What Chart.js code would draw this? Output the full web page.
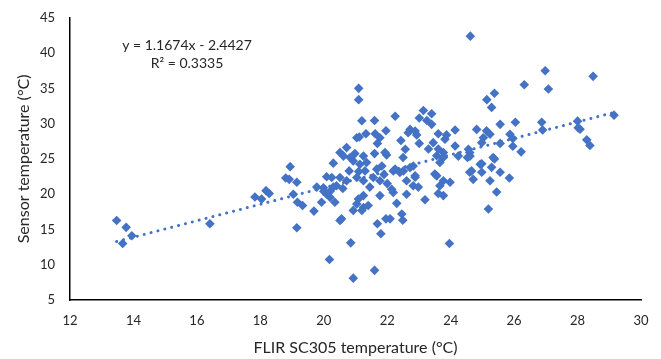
<!DOCTYPE html>
<html>
<head>
<meta charset="utf-8">
<script src="https://cdn.jsdelivr.net/npm/chart.js@4/dist/chart.umd.min.js"></script>
<style>
  html, body { margin: 0; padding: 0; background: #fff; }
  #wrap { width: 661px; height: 359px; position: relative; }
</style>
</head>
<body>
<div id="wrap"><canvas id="c" width="661" height="359"></canvas></div>
<script>
// FLIR SC305 temperature (x, °C)
const flirX = [
  13.47,13.77,13.95,13.66,16.41,17.83,18.04,18.18,18.28,18.94,18.8,18.91,19.15,19.04,19.17,19.33,19.15,19.69,19.93,20.09,
  20.2,20.35,20.09,20.51,20.56,20.85,20.93,20.18,20.93,20.3,20.72,20.51,20.83,20.62,20.93,21.1,21.1,21.04,21.2,20.25,
  20.51,20.72,21.04,21.25,21.56,21.77,19.78,19.99,21.09,21.04,21.25,21.4,21.6,21.69,21.8,21.96,21.6,21.96,21.33,21.12,
  21.62,21.77,21.69,20.98,21.25,21.6,21.93,21.14,21.35,22.25,23.14,23.4,23.01,23.25,22.72,22.88,22.66,22.93,23.4,24.14,
  23.61,23.87,22.43,22.57,23.01,23.45,23.82,24.14,23.3,23.61,23.56,23.77,23.77,23.66,24.24,24.56,24.61,24.82,25.13,25.24,
  25.03,24.98,25.34,25.29,24.66,24.93,24.98,25.24,23.5,23.77,23.98,22.25,22.51,22.72,22.88,22.61,22.82,22.19,22.61,22.3,
  22.46,22.49,23.19,23.61,23.77,22.09,23.96,25.19,25.45,25.85,25.56,24.71,24.6,23.66,22.14,22.98,22.88,21.77,21.25,21.2,
  21.83,21.67,22.19,22.4,22.5,22.82,21.98,24.62,26.98,28.49,26.32,27.08,25.38,25.14,25.29,29.15,26.04,26.87,26.9,28.0,
  28.08,28.02,28.29,28.39,25.56,25.87,25.96,25.96,25.56,26.22,25.38,24.98,24.53,24.6,23.56,20.4,20.6,20.2,21.3,21.45,
  22.0,21.9,20.8,21.1,20.0,20.3
];
// Sensor temperature (y, °C)
const sensorY = [
  16.27,15.3,14.1,13.0,15.8,19.6,19.3,20.5,20.1,23.9,22.3,22.1,21.7,20.0,18.85,18.4,15.24,17.6,18.85,20.0,
  19.55,18.85,22.46,16.27,16.5,13.1,8.1,10.73,17.7,24.4,26.6,25.9,25.2,25.4,24.7,35.0,33.4,28.0,30.4,22.37,
  22.37,21.9,22.37,21.9,22.37,21.9,21.0,20.9,19.3,18.6,18.1,18.4,9.2,15.8,14.4,16.5,30.45,29.0,28.56,28.1,
  28.56,28.0,27.2,25.75,25.4,25.75,25.9,24.25,24.5,31.05,31.86,31.4,30.8,30.45,29.18,28.94,28.7,28.4,29.9,29.1,
  28.56,28.4,27.6,26.37,27.2,27.3,27.8,26.83,26.4,26.4,25.45,25.9,25.2,24.5,25.4,26.37,25.4,29.18,29.0,28.5,
  28.0,27.3,25.2,23.8,23.3,24.25,23.1,21.9,22.85,21.9,21.7,23.55,23.3,23.77,22.6,21.9,21.2,20.25,20.0,18.7,
  17.2,16.3,19.2,20.1,19.8,16.5,13.0,17.9,20.3,22.3,23.1,22.1,23.1,21.2,20.7,21.0,22.4,19.8,19.8,17.7,
  24.0,23.55,23.3,23.07,25.2,24.0,25.56,42.4,37.5,36.7,35.5,34.9,34.3,33.4,32.3,31.2,30.2,30.2,29.1,30.35,
  29.2,29.4,27.7,26.9,29.9,28.5,27.9,26.8,27.2,26.0,25.0,24.3,25.2,25.9,22.6,21.2,20.8,20.4,23.3,21.0,
  21.5,22.8,23.3,23.2,20.4,21.0
];
const xTicks = [12,14,16,18,20,22,24,26,28,30];
const yTicks = [5,10,15,20,25,30,35,40,45];
const slope = 1.1674, intercept = -2.4427;
const eqText = ['y = 1.1674x - 2.4427', 'R² = 0.3335'];

const points = flirX.map((x, i) => ({x: x, y: sensorY[i]}));
const xMin = Math.min(...flirX), xMax = Math.max(...flirX);
const trend = [{x: xMin, y: slope * xMin + intercept}, {x: xMax, y: slope * xMax + intercept}];

const FONT = 'Lato, "Open Sans", sans-serif';
const TXT = '#262626';

const eqPlugin = {
  id: 'eq',
  afterDraw(chart) {
    const ctx = chart.ctx;
    ctx.save();
    ctx.fillStyle = TXT;
    ctx.font = '14px ' + FONT;
    ctx.textAlign = 'center';
    ctx.textBaseline = 'middle';
    ctx.fillText(eqText[0], 187, 45);
    ctx.fillText(eqText[1], 187, 63);
    ctx.restore();
  }
};

new Chart(document.getElementById('c'), {
  type: 'scatter',
  data: {
    datasets: [
      {
        label: 'data',
        data: points,
        pointStyle: 'rectRot',
        pointRadius: 4.8,
        pointHoverRadius: 4.8,
        backgroundColor: '#4472C4',
        borderColor: '#4472C4',
        borderWidth: 0,
        order: 2
      },
      {
        label: 'trend',
        type: 'line',
        data: trend,
        showLine: true,
        borderColor: '#4472C4',
        borderWidth: 3,
        borderDash: [0.1, 7],
        borderCapStyle: 'round',
        pointRadius: 0,
        fill: false,
        order: 1
      }
    ]
  },
  options: {
    responsive: false,
    animation: false,
    events: [],
    layout: { padding: { left: 0, right: 20, top: 16, bottom: 0 } },
    plugins: { legend: { display: false }, tooltip: { enabled: false } },
    scales: {
      x: {
        type: 'linear',
        min: 12, max: 30,
        afterBuildTicks: (s) => { s.ticks = xTicks.map(v => ({value: v})); },
        afterFit: (s) => { s.height = 59; },
        grid: { display: false, drawTicks: true, tickLength: 5, tickColor: '#000' },
        border: { display: true, color: '#000', width: 1.5 },
        ticks: { color: TXT, font: { family: FONT, size: 13 }, padding: 8, maxRotation: 0 },
        title: { display: true, text: 'FLIR SC305 temperature (°C)', color: TXT, font: { family: FONT, size: 16 }, padding: { top: 4, bottom: 1.5 } }
      },
      y: {
        type: 'linear',
        min: 5, max: 45,
        afterBuildTicks: (s) => { s.ticks = yTicks.map(v => ({value: v})); },
        afterFit: (s) => { s.width = 70; },
        grid: { display: false, drawTicks: true, tickLength: 5, tickColor: '#000' },
        border: { display: true, color: '#000', width: 1.5 },
        ticks: { color: TXT, font: { family: FONT, size: 13 }, padding: 10 },
        title: { display: true, text: 'Sensor temperature (°C)', color: TXT, font: { family: FONT, size: 16 }, padding: { top: 14, bottom: 0 } }
      }
    }
  },
  plugins: [eqPlugin]
});
</script>
</body>
</html>
